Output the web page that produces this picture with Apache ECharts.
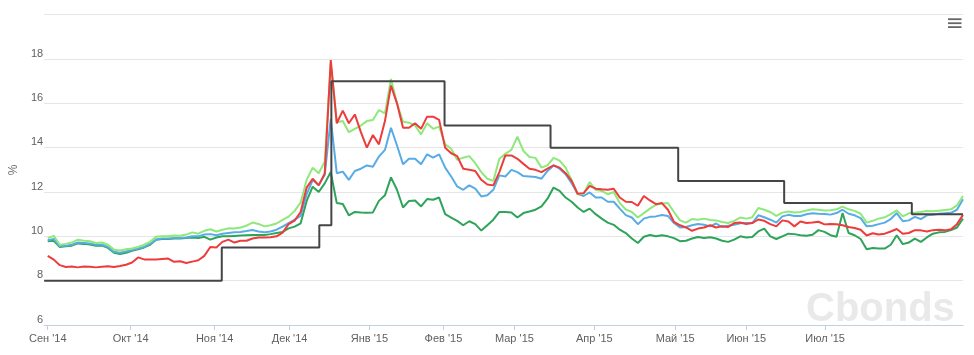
<!DOCTYPE html>
<html>
<head>
<meta charset="utf-8">
<script src="https://cdn.jsdelivr.net/npm/echarts@6/dist/echarts.min.js"></script>
<style>
  html, body { margin: 0; padding: 0; background: #fff; }
  #chart { width: 974px; height: 355px; }
</style>
</head>
<body>
<div id="chart"></div>
<script>
// x = номер торговой сессии (шаг выборки), подписи месяцев стоят на первых сессиях месяца
const monthLabels = ["Сен '14", "Окт '14", "Ноя '14", "Дек '14", "Янв '15", "Фев '15",
  "Мар '15", "Апр '15", "Май '15", "Июн '15", "Июл '15"];
const monthPos = [0, 13.77, 27.71, 40.16, 53.43, 65.72, 77.5, 90.77, 104.2, 116.0, 129.1];

// ключевая ставка ЦБ: с какой сессии действует и значение
const keyRateFrom = [-0.6, 28.9, 45.1, 47.1, 65.9, 83.5, 104.7, 122.3, 143.5, 152];
const keyRate = [8, 9.5, 10.5, 17, 15, 14, 12.5, 11.5, 11, 11];

// доходности, %
const lightGreen = [
  9.92, 10.02, 9.62, 9.66, 9.72, 9.85, 9.8, 9.78, 9.7, 9.72,
  9.62, 9.4, 9.36, 9.42, 9.45, 9.52, 9.62, 9.75, 9.98, 10.0,
  10.0, 10.04, 10.03, 10.08, 10.18, 10.12, 10.25, 10.32, 10.22, 10.3,
  10.36, 10.35, 10.4, 10.48, 10.62, 10.56, 10.45, 10.5, 10.58, 10.74,
  10.89, 11.15, 11.52, 12.55, 13.1, 12.85, 13.37, 17.8, 15.15, 15.2,
  14.7, 14.85, 15.0, 15.2, 15.25, 15.7, 15.55, 17.1, 16.0, 15.17,
  15.13, 15.0, 14.6, 15.1, 14.85, 14.95, 14.15, 13.95, 13.45, 13.55,
  13.62, 13.3, 12.9, 12.6, 12.5, 13.5, 13.72, 13.9, 14.5, 13.85,
  13.58, 13.54, 13.1, 13.2, 13.54, 13.42, 13.1, 12.55, 11.9, 11.92,
  12.45, 12.1, 12.05, 11.9, 12.0, 11.5, 11.21, 11.1, 10.85, 11.05,
  11.25, 11.42, 11.48, 11.5, 11.1, 10.72, 10.62, 10.78, 10.75, 10.8,
  10.74, 10.72, 10.65, 10.6, 10.7, 10.85, 10.8, 10.86, 11.28, 11.2,
  11.1, 10.92, 11.07, 11.12, 11.08, 11.1, 11.17, 11.22, 11.2, 11.17,
  11.18, 11.22, 11.34, 11.22, 11.15, 11.02, 10.62, 10.7, 10.8, 10.86,
  11.0, 11.17, 10.9, 11.04, 11.07, 11.1, 11.14, 11.13, 11.16, 11.19,
  11.22, 11.4, 11.82
];
const red = [
  9.12, 8.95, 8.7, 8.62, 8.64, 8.6, 8.64, 8.63, 8.6, 8.63,
  8.65, 8.62, 8.66, 8.72, 8.82, 9.05, 8.96, 8.96, 8.96, 8.98,
  9.0, 8.85, 8.88, 8.8, 8.86, 8.92, 9.12, 9.52, 9.5, 9.75,
  9.85, 9.72, 9.8, 9.8, 9.9, 9.95, 9.95, 9.96, 10.0, 10.17,
  10.55, 10.71, 11.1, 12.2, 12.6, 12.3, 12.84, 17.95, 15.1, 15.67,
  15.1, 15.5, 14.7, 14.0, 14.57, 14.15, 15.2, 16.8, 16.0, 14.9,
  14.9, 15.1, 14.85, 15.4, 15.4, 15.25, 14.0, 13.75, 13.62, 13.05,
  13.0, 12.95, 12.55, 12.34, 12.3, 12.9, 13.65, 13.65, 13.5, 13.27,
  13.05, 13.0, 12.9, 13.05, 13.2, 13.1, 12.85, 12.5, 11.92, 11.95,
  12.28, 12.15, 12.12, 12.1, 12.15, 11.75, 11.56, 11.55, 11.38, 11.82,
  11.62, 11.45, 11.5, 11.2, 10.65, 10.5, 10.4, 10.25, 10.35, 10.4,
  10.5, 10.4, 10.46, 10.42, 10.6, 10.62, 10.56, 10.6, 10.76, 10.7,
  10.55, 10.45, 10.72, 10.67, 10.45, 10.67, 10.6, 10.62, 10.66, 10.54,
  10.56, 10.55, 10.5, 10.42, 10.38, 10.3, 10.04, 10.14, 10.08, 10.12,
  10.22, 10.33, 10.12, 10.15, 10.28, 10.27, 10.22, 10.28, 10.3, 10.27,
  10.32, 10.55, 10.97
];
const blue = [
  9.82, 9.88, 9.55, 9.58, 9.62, 9.72, 9.7, 9.68, 9.62, 9.62,
  9.52, 9.3, 9.26, 9.32, 9.38, 9.45, 9.52, 9.66, 9.86, 9.9,
  9.9, 9.92, 9.93, 9.95, 10.0, 10.0, 10.08, 10.1, 10.05, 10.12,
  10.15, 10.18, 10.2, 10.24, 10.29, 10.22, 10.18, 10.22, 10.3, 10.44,
  10.6, 10.75, 10.92, 11.9, 12.54, 12.32, 12.77, 15.3, 12.85, 12.92,
  12.55, 12.95, 13.05, 13.2, 13.14, 13.6, 13.9, 14.9, 14.1, 13.25,
  13.5, 13.5, 13.25, 13.7, 13.55, 13.7, 13.1, 12.7, 12.25, 12.1,
  12.3, 12.15, 11.8, 11.85, 12.1, 12.75, 12.7, 13.0, 12.9, 12.72,
  12.7, 12.68, 12.6, 12.95, 13.2, 13.05, 12.8, 12.4, 11.92, 11.82,
  11.98, 11.75, 11.75, 11.56, 11.56, 11.25, 10.96, 10.85, 10.55, 10.8,
  10.88, 10.9, 10.96, 10.92, 10.6, 10.4, 10.42, 10.5, 10.56, 10.52,
  10.45, 10.58, 10.42, 10.48, 10.52, 10.59, 10.6, 10.6, 10.95, 10.86,
  10.75, 10.62, 10.9, 10.97, 10.92, 10.92, 11.0, 11.04, 11.02, 11.01,
  10.98, 11.05, 11.2, 11.02, 10.95, 10.82, 10.45, 10.48, 10.55, 10.62,
  10.78, 11.05, 10.68, 10.72, 10.88, 10.78, 10.95, 10.97, 11.02, 11.04,
  11.06, 11.2, 11.67
];
const darkGreen = [
  9.78, 9.8, 9.52, 9.55, 9.58, 9.68, 9.66, 9.63, 9.58, 9.58,
  9.48, 9.26, 9.2, 9.26, 9.35, 9.42, 9.5, 9.62, 9.85, 9.88,
  9.88, 9.9, 9.9, 9.92, 9.95, 9.92, 9.98, 9.85, 9.95, 10.0,
  10.0, 10.02, 10.04, 10.05, 10.06, 10.06, 10.06, 10.1, 10.15, 10.2,
  10.36, 10.44, 10.59, 11.6, 12.24, 12.0, 12.39, 12.9, 11.5, 11.46,
  10.95, 11.1, 11.08, 11.07, 11.08, 11.6, 11.85, 12.66, 12.1, 11.3,
  11.6, 11.62, 11.35, 11.68, 11.65, 11.75, 11.0, 10.85, 10.7, 10.5,
  10.68, 10.55, 10.26, 10.5, 10.75, 11.1, 11.1, 11.08, 10.85, 11.05,
  11.12, 11.2, 11.35, 11.7, 12.2, 12.05, 11.75, 11.56, 11.3, 11.1,
  11.25, 11.0, 10.8, 10.62, 10.52, 10.3, 10.15, 9.9, 9.7, 9.98,
  10.06, 10.0, 10.05, 10.0, 9.92, 9.78, 9.8, 9.9, 9.97, 9.93,
  9.96, 9.9, 9.8, 9.75, 9.85, 10.0, 9.95, 9.97, 10.22, 10.35,
  10.0, 9.88, 10.0, 10.12, 10.1, 10.05, 10.03, 10.07, 10.28, 10.2,
  10.05, 9.98, 11.05, 10.15, 10.05, 9.88, 9.42, 9.47, 9.45, 9.45,
  9.62, 10.05, 9.65, 9.72, 9.9, 9.75, 9.95, 10.12, 10.18, 10.2,
  10.28, 10.4, 10.8
];

const FONT = "'Liberation Sans', Arial, sans-serif";
const toPairs = arr => arr.map((v, i) => [i, v]);

const line = (name, color, values) => ({
  name,
  type: 'line',
  data: toPairs(values),
  symbol: 'none',
  lineStyle: { color, width: 2 },
  itemStyle: { color },
  emphasis: { disabled: true }
});

const chart = echarts.init(document.getElementById('chart'));

chart.setOption({
  animation: false,
  backgroundColor: '#fff',
  grid: { left: 43, right: 11, top: 14.7, bottom: 30 },
  xAxis: {
    type: 'value',
    min: -0.6,
    max: 152,
    axisLine: { show: true, lineStyle: { color: '#C0D0E0', width: 1 } },
    axisTick: { show: true, customValues: monthPos, length: 5, lineStyle: { color: '#C0D0E0' } },
    axisLabel: {
      customValues: monthPos,
      color: '#606060',
      fontFamily: FONT,
      fontSize: 11,
      margin: 8,
      formatter: v => {
        const k = monthPos.findIndex(p => Math.abs(p - v) < 0.01);
        return k >= 0 ? monthLabels[k] : '';
      }
    },
    splitLine: { show: false }
  },
  yAxis: {
    type: 'value',
    min: 6,
    max: 20,
    interval: 2,
    name: '%',
    nameLocation: 'middle',
    nameGap: 19,
    nameRotate: 90,
    nameTextStyle: { color: '#707070', fontFamily: FONT, fontSize: 12 },
    axisLine: { show: false },
    axisTick: { show: false },
    axisLabel: {
      color: '#606060',
      fontFamily: FONT,
      fontSize: 11,
      margin: 1,
      verticalAlign: 'bottom',
      formatter: v => (v === 20 ? '' : String(v))
    },
    splitLine: { lineStyle: { color: '#e6e6e6', width: 1 } }
  },
  graphic: [
    {
      type: 'text', left: 806, top: 290, z: 0, silent: true,
      style: { text: 'Cbonds', fill: '#e9e9e9', font: 'bold 40px ' + FONT }
    },
    { type: 'rect', shape: { x: 948, y: 18.3, width: 13.5, height: 1.8 }, style: { fill: '#666' } },
    { type: 'rect', shape: { x: 948, y: 22.3, width: 13.5, height: 1.8 }, style: { fill: '#666' } },
    { type: 'rect', shape: { x: 948, y: 26.2, width: 13.5, height: 1.8 }, style: { fill: '#666' } }
  ],
  series: [
    line('Dark green', '#2ea35a', darkGreen),
    line('Blue', '#58ace6', blue),
    line('Light green', '#8ee87a', lightGreen),
    line('Red', '#ee3b3b', red),
    {
      name: 'Ключевая ставка',
      type: 'line',
      step: 'end',
      data: keyRateFrom.map((x, k) => [x, keyRate[k]]),
      symbol: 'none',
      lineStyle: { color: '#454548', width: 2 },
      emphasis: { disabled: true }
    }
  ]
});
</script>
</body>
</html>
